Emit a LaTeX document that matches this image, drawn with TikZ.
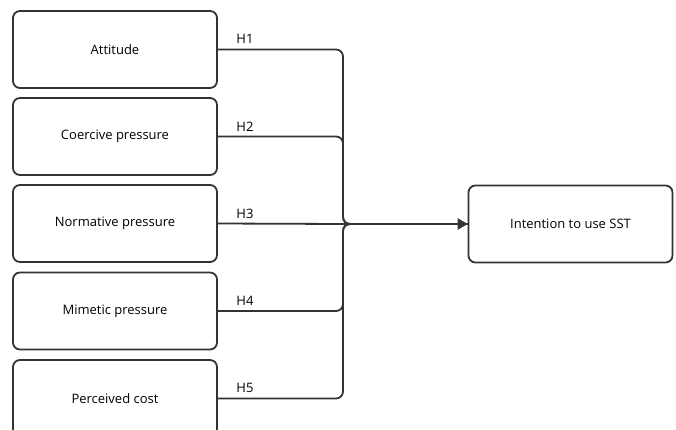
\documentclass[tikz,border=0pt]{standalone}
\usepackage{fontspec}
\setmainfont{Open Sans}
\usetikzlibrary{arrows.meta}
\definecolor{ink}{HTML}{333333}
\begin{document}
\begin{tikzpicture}[x=1pt,y=-1pt,
  box/.style={draw=ink,line width=1.8pt,rounded corners=7pt,minimum width=204pt,minimum height=77pt,inner sep=0pt,font=\fontsize{13}{15}\selectfont,text=black},
  conn/.style={draw=ink,line width=1.8pt,rounded corners=7pt},
  hlab/.style={font=\fontsize{13}{15}\selectfont,text=black,inner sep=0pt}]
\useasboundingbox (0,0) rectangle (676,430);
\clip (0,0) rectangle (676,430);
\node[box] (a) at (115,49.5) {\raisebox{-1pt}{Attitude}};
\node[box] (c) at (115,136.5) {\raisebox{-1pt}{Coercive pressure}};
\node[box] (n) at (115,223.5) {\raisebox{-1pt}{Normative pressure}};
\node[box] (m) at (115,311) {\raisebox{-1pt}{Mimetic pressure}};
\node[box] (p) at (115,398.5) {\raisebox{-1pt}{Perceived cost}};
\node[box] (t) at (570.5,224) {\raisebox{-1pt}{Intention to use SST}};
\coordinate (j) at (343,224);
\draw[conn] (a.east) -| (j) -- (t.west);
\draw[conn] (c.east) -| (j) -- (t.west);
\draw[conn] (n.east) -- (j);
\draw[conn] (m.east) -| (j) -- (t.west);
\draw[conn] (p.east) -| (j) -- (t.west);
\draw[draw=ink,line width=2.6pt,-{Triangle[length=10pt,width=11pt]}] (j) -- (t.west);
\node[hlab] (h1) at (245,39) {H1};
\node[hlab] (h2) at (245,127) {H2};
\node[hlab] (h3) at (245,214) {H3};
\node[hlab] (h4) at (245,301) {H4};
\node[hlab] (h5) at (245,388) {H5};
\end{tikzpicture}
\end{document}
